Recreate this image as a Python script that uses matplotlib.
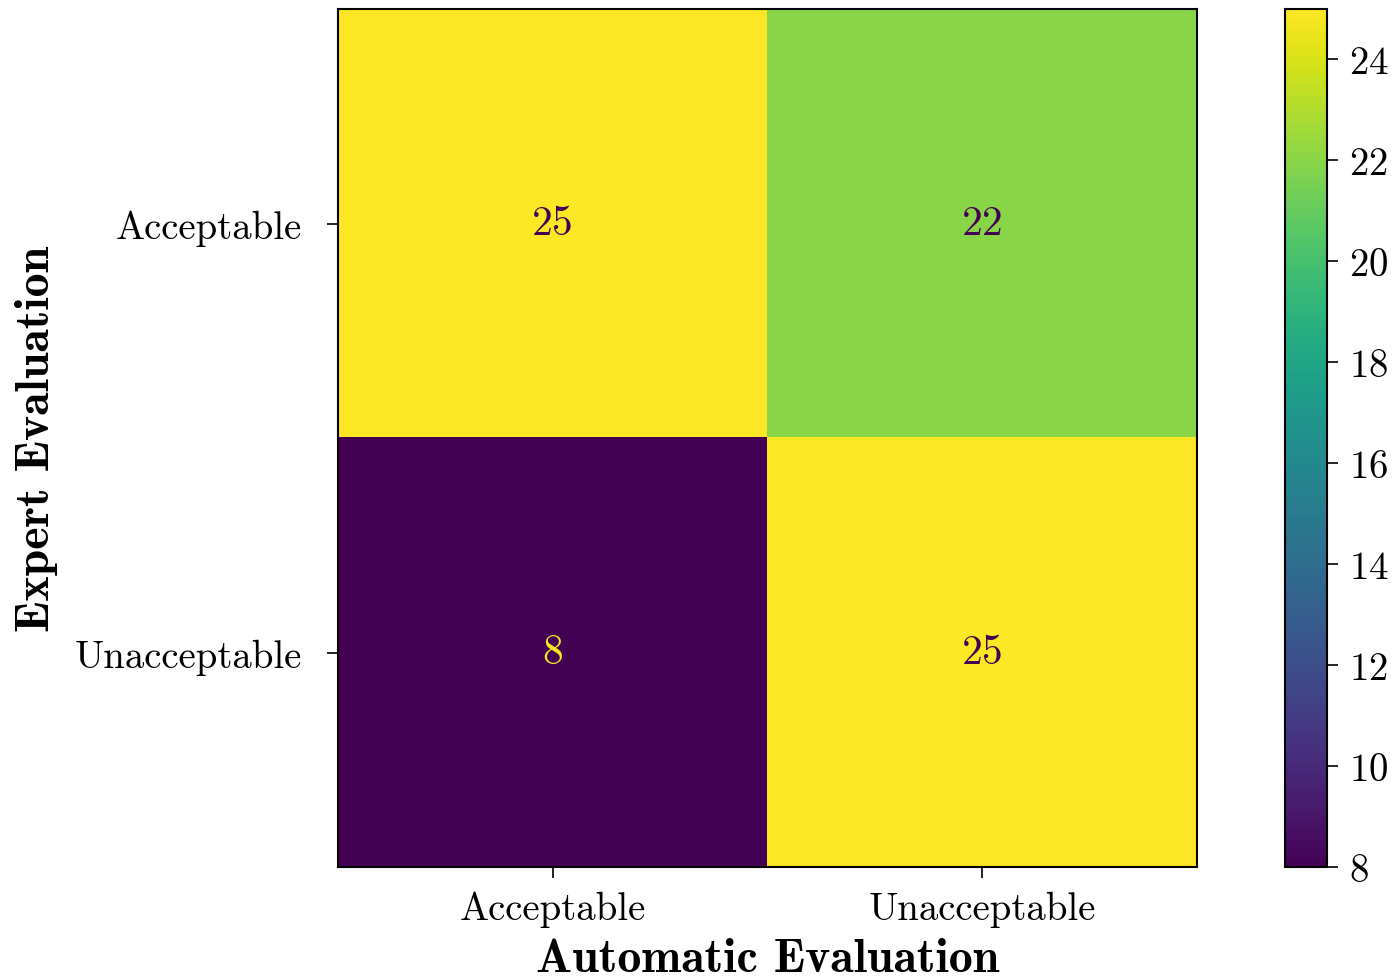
import numpy as np
import matplotlib
matplotlib.use("Agg")
import matplotlib.pyplot as plt

labels = ["Acceptable", "Unacceptable"]
counts = np.array([[25, 22],
                   [8, 25]])

plt.rcParams['font.family'] = 'serif'
plt.rcParams['font.serif'] = ['cmr10']
plt.rcParams['mathtext.fontset'] = 'cm'
plt.rcParams['axes.formatter.use_mathtext'] = True

fig = plt.figure(figsize=(13.94, 9.79), dpi=100)
ax = fig.add_axes([338/1394, 1-868/979, (1197-338)/1394, (868-10)/979])
cax = fig.add_axes([1285/1394, 1-868/979, (1327-1285)/1394, (868-10)/979])

cmap = plt.get_cmap('viridis')
im = ax.imshow(counts, cmap=cmap, vmin=counts.min(), vmax=counts.max(), aspect='auto')

# text colour flips on dark cells, like sklearn's confusion matrix display
thresh = (counts.max() + counts.min()) / 2
for i in range(2):
    for j in range(2):
        c = cmap(0) if counts[i, j] > thresh else cmap(1.0)
        ax.text(j, i, str(counts[i, j]), ha='center', va='center', color=c, fontsize=30)

ax.set_xticks(range(2))
ax.set_xticklabels(labels, fontsize=28)
ax.set_yticks(range(2))
ax.set_yticklabels(labels, fontsize=28)
ax.tick_params(axis='x', length=8, width=1.2, pad=9)
ax.tick_params(axis='y', length=8, width=1.2, pad=18)
ax.set_xlabel("Automatic Evaluation", fontsize=34.5, fontfamily='cmb10', labelpad=8)
ax.set_ylabel("Expert Evaluation", fontsize=34.5, fontfamily='cmb10', labelpad=12)
for s in ax.spines.values():
    s.set_linewidth(1.5)

cb = fig.colorbar(im, cax=cax, ticks=range(8, 25, 2))
cb.ax.tick_params(labelsize=28, length=8, width=1.2, pad=8)
cb.outline.set_linewidth(1.5)

fig.savefig("out.png", dpi=100)
